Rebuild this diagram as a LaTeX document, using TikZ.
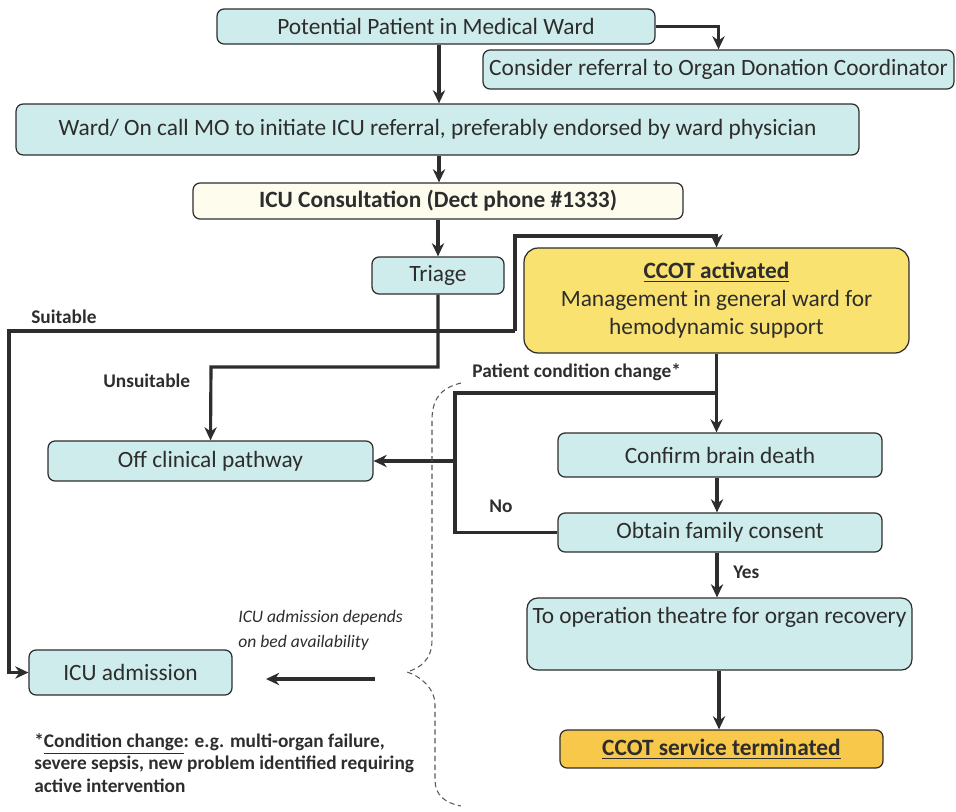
\documentclass[tikz,border=0pt]{standalone}
\usepackage{fontspec}
\setmainfont{Carlito}
\usetikzlibrary{arrows.meta}
\definecolor{boxcyan}{RGB}{206,236,236}
\definecolor{boxcream}{RGB}{254,252,236}
\definecolor{boxyellow}{RGB}{250,226,112}
\definecolor{boxorange}{RGB}{248,200,74}
\definecolor{ink}{RGB}{45,45,45}
\tikzset{
  box/.style = {draw=ink, line width=0.7pt, rounded corners=4pt, fill=boxcyan, text=ink,
    font=\fontsize{13.3}{16}\selectfont, inner sep=0pt, align=center},
  flow/.style = {draw=ink, line width=1.8pt, ->, >={Stealth[length=7.5pt,width=7pt]}},
  link/.style = {draw=ink, line width=1.8pt},
  lbl/.style = {text=ink, font=\fontsize{11}{13}\selectfont\bfseries, anchor=west, inner sep=0pt},
  brace/.style = {draw=ink!80, line width=0.6pt, densely dashed},
}
\begin{document}
\begin{tikzpicture}[x=0.02cm, y=-0.02cm]
        \useasboundingbox (0,0) rectangle (956,811);

        \node[box, minimum width=8.76cm, minimum height=0.70cm] (potential) at (436,26.5) {Potential Patient in Medical Ward};
        \node[box, minimum width=9.42cm, minimum height=0.78cm] (referral) at (718.5,69.5) {Consider referral to Organ Donation Coordinator};
        \node[box, minimum width=16.86cm, minimum height=1.02cm] (ward) at (437.5,129.5) {Ward/ On call MO to initiate ICU referral, preferably endorsed by ward physician};
        \node[box, fill=boxcream, font=\fontsize{13.3}{16}\selectfont\bfseries, minimum width=9.80cm, minimum height=0.72cm] (consult) at (438,201) {ICU Consultation (Dect phone \#1333)};
        \node[box, minimum width=2.64cm, minimum height=0.74cm] (triage) at (438,275.5) {Triage};
        \node[box, fill=boxyellow, rounded corners=8pt, minimum width=7.70cm, minimum height=2.10cm] (ccot) at (716.5,300.5)
            {\textbf{\underline{CCOT activated}}\\Management in general ward for\\hemodynamic support};
        \node[box, minimum width=6.50cm, minimum height=0.80cm] (offpath) at (210.5,461) {Off clinical pathway};
        \node[box, minimum width=6.48cm, minimum height=0.88cm] (brain) at (720,455) {Confirm brain death};
        \node[box, minimum width=6.48cm, minimum height=0.78cm] (consent) at (720,532.5) {Obtain family consent};
        \node[box, rounded corners=6pt, minimum width=7.70cm, minimum height=1.44cm] (theatre) at (719.5,634) {To operation theatre for organ recovery\\\strut};
        \node[box, fill=boxorange, font=\fontsize{13.3}{16}\selectfont\bfseries, minimum width=6.46cm, minimum height=0.76cm] (terminated) at (721.5,749) {\underline{CCOT service terminated}};
        \node[box, minimum width=4.06cm, minimum height=0.90cm] (icuadm) at (130.5,672.5) {ICU admission};

        \coordinate (unsuit) at (211,367);
        \coordinate (suitL) at (9,331);
        \coordinate (suitR) at (515,331);
        \coordinate (ccotup) at (515,236);
        \coordinate (cond) at (717,393);
        \coordinate (noturn) at (455,393);
        \coordinate (bedtail) at (375,679);
        \coordinate (bedtip) at (266,679);

        \draw[flow] (potential.south -| 439,0) -- (ward.north -| 439,0);
        \draw[flow] (potential.east) -| (referral.north);
        \draw[flow] (ward.south -| 439,0) -- (consult.north -| 439,0);
        \draw[flow] (consult.south) -- (triage.north);
        \draw[flow] (triage.south) |- (unsuit) -- (offpath.north);
        \draw[flow] (suitR) -- (suitL) |- (icuadm.west);
        \draw[flow] (suitR) -- (ccotup) -| (ccot.north);
        \draw[flow] (ccot.south) -- (ccot.south |- brain.north);
        \draw[link] (cond) -- (noturn) |- (consent.west);
        \draw[flow] (noturn |- offpath.east) -- (offpath.east);
        \draw[flow] (brain.south -| 717,0) -- (consent.north -| 717,0);
        \draw[flow] (consent.south -| 717,0) -- (theatre.north -| 717,0);
        \draw[flow] (theatre.south -| 719,0) -- (terminated.north -| 719,0);
        \draw[flow] (bedtail) -- (bedtip);

        \node[lbl] (suitlbl) at (31,317) {Suitable};
        \node[lbl] (unsuitlbl) at (103,381) {Unsuitable};
        \node[lbl] (condlbl) at (472,372) {Patient condition change*};
        \node[lbl] (nolbl) at (489,506) {No};
        \node[lbl] (yeslbl) at (733,572) {Yes};
        \node[lbl, anchor=north west, align=left, font=\fontsize{10}{14}\selectfont\itshape] (bedlbl) at (238,610)
            {ICU admission depends\\on bed availability};
        \node[lbl, anchor=north west, align=left, font=\fontsize{11}{12.8}\selectfont\bfseries] (footlbl) at (34,733)
            {*\underline{Condition change}: e.g. multi-organ failure,\\severe sepsis, new problem identified requiring\\active intervention};

        \draw[brace] (461,383) .. controls (440,388) and (432,400) .. (432,420) -- (432,640)
            .. controls (432,660) and (420,668) .. (407,672)
            .. controls (420,676) and (435,688) .. (435,705) -- (435,780)
            .. controls (435,795) and (445,803) .. (461,806);
\end{tikzpicture}
\end{document}
